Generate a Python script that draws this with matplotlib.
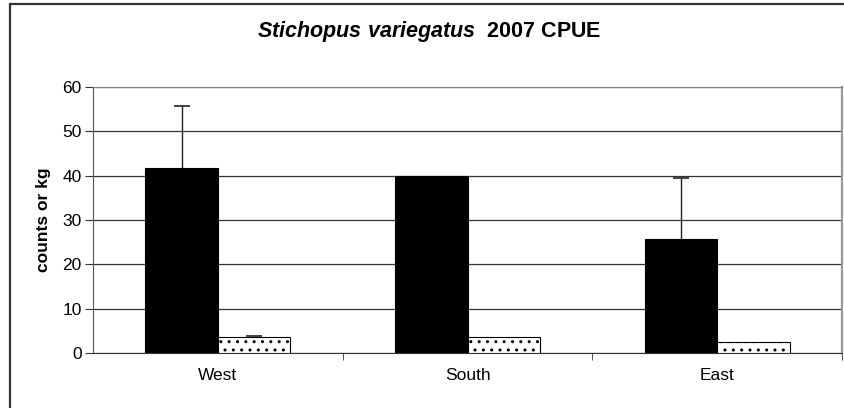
import numpy as np
import matplotlib
matplotlib.use("Agg")
import matplotlib.pyplot as plt
from matplotlib.patches import Rectangle

plt.rcParams["font.family"] = ["Liberation Sans", "DejaVu Sans"]
plt.rcParams["mathtext.fontset"] = "custom"
plt.rcParams["mathtext.it"] = "Liberation Sans:bold:italic"
plt.rcParams["mathtext.rm"] = "Liberation Sans:bold"
plt.rcParams["hatch.linewidth"] = 1.0
plt.rcParams["hatch.color"] = "#333333"

# ---- data -------------------------------------------------------------------
regions = ["West", "South", "East"]
counts = [41.7, 40.0, 25.7]
counts_err = [13.9, 0.0, 13.7]
kg = [3.5, 3.5, 2.4]
kg_err = [0.3, 0.0, 0.0]

# ---- figure -----------------------------------------------------------------
fig = plt.figure(figsize=(8.44, 4.08), dpi=100)
ax = fig.add_axes([0.110, 0.135, 0.888, 0.652])

# chart-area border (cut off on the right / bottom like the source)
fig.patches.append(Rectangle((10 / 844, -0.05), 1.2, 1.05 - 4 / 408,
                             transform=fig.transFigure, fill=False,
                             edgecolor="#333333", linewidth=1.6, zorder=0))

x = np.arange(len(regions))
w = 0.29
ax.bar(x - w / 2, counts, w, color="black", edgecolor="black", linewidth=0.8,
       zorder=3)
ax.bar(x + w / 2, kg, w, color="white", edgecolor="black", linewidth=0.8,
       hatch="..", zorder=3)

# Excel-style "plus" error bars: upper whisker and cap only
for xs, ys, errs in [(x - w / 2, counts, counts_err), (x + w / 2, kg, kg_err)]:
    xs, ys, errs = map(np.asarray, (xs, ys, errs))
    keep = errs > 0
    _, caps, _ = ax.errorbar(xs[keep], ys[keep],
                             yerr=[np.zeros(keep.sum()), errs[keep]],
                             fmt="none", ecolor="#222222", elinewidth=1.0,
                             capsize=6, capthick=1.2, zorder=4)
    caps[0].set_visible(False)   # drop the lower cap

ax.set_xlim(-0.5, 2.5)
ax.set_ylim(0, 60)
ax.set_yticks(range(0, 61, 10))
ax.yaxis.grid(True, color="#333333", linewidth=0.9, zorder=0)
ax.set_axisbelow(True)

ax.set_xticks(x)
ax.set_xticklabels(regions, fontsize=12.5)
ax.set_xticks([0.5, 1.5, 2.5], minor=True)
ax.tick_params(axis="x", which="major", length=0, pad=11)
ax.tick_params(axis="x", which="minor", length=5, color="#333333")
ax.tick_params(axis="y", length=6, labelsize=12.5, color="#333333", pad=2)

ax.spines["top"].set_color("#808080")
ax.spines["right"].set_color("#999999")
ax.spines["right"].set_linewidth(1.6)
ax.spines["left"].set_color("#555555")
ax.spines["bottom"].set_color("#333333")

ax.set_ylabel("counts or kg", fontsize=12.5, fontweight="bold", labelpad=8)

fig.text(0.509, 0.924, r"$\it{Stichopus\ variegatus}$" + "  2007 CPUE",
         ha="center", va="center", fontsize=15.5, fontweight="bold")

fig.savefig("out.png", dpi=100)
